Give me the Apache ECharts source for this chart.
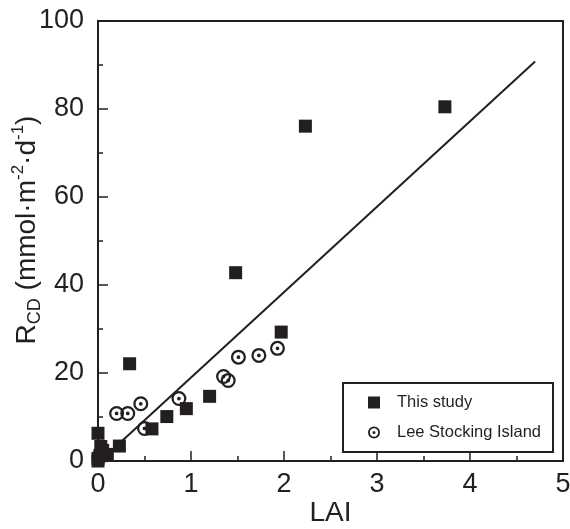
<!DOCTYPE html>
<html>
<head>
<meta charset="utf-8">
<script src="https://cdn.jsdelivr.net/npm/echarts@6/dist/echarts.min.js"></script>
<style>
  html, body { margin: 0; padding: 0; background: #fff; }
  #chart { width: 570px; height: 529px; }
</style>
</head>
<body>
<div id="chart"></div>
<script>
// This study
const studyLAI = [3.73, 2.23, 1.48, 1.97, 0.34, 1.20, 0.95, 0.74, 0.58, 0.23, 0.00, 0.03, 0.10, 0.00, 0.02, 0.05, 0.00];
const studyR   = [80.5, 76.1, 42.8, 29.3, 22.1, 14.7, 11.9, 10.1, 7.3, 3.4, 6.3, 3.3, 1.5, 0.0, 1.2, 2.4, 0.6];

// Lee Stocking Island
const lsiLAI = [0.20, 0.32, 0.46, 0.50, 0.87, 1.35, 1.40, 1.51, 1.73, 1.93, 0.01];
const lsiR   = [10.8, 10.8, 13.0, 7.4, 14.2, 19.2, 18.3, 23.6, 24.0, 25.6, 0.8];

// regression line end points
const fitLAI = [0.12, 4.70];
const fitR   = [1.9, 90.8];

const xTicks = [0, 1, 2, 3, 4, 5];
const yTicks = [0, 20, 40, 60, 80, 100];

const ink = '#231f20';
const font = "'Liberation Sans', Arial, sans-serif";
const ringDot = 'path://M0,-10A10,10,0,1,1,0,10A10,10,0,1,1,0,-10Z' +
  'M0,-7A7,7,0,1,0,0,7A7,7,0,1,0,0,-7Z' +
  'M0,-2.5A2.5,2.5,0,1,1,0,2.5A2.5,2.5,0,1,1,0,-2.5Z';

const zip = (a, b) => a.map((v, i) => [v, b[i]]);

const chart = echarts.init(document.getElementById('chart'));

const option = {
  backgroundColor: '#fff',
  animation: false,
  textStyle: { fontFamily: font, color: ink },
  grid: {
    left: 98, right: 7, top: 21, bottom: 68,
    outerBoundsMode: 'none',
    containLabel: false,
    show: true, borderColor: ink, borderWidth: 2, backgroundColor: 'transparent'
  },
  legend: {
    orient: 'vertical',
    left: 343, top: 383,
    padding: [11, 12, 11, 25],
    itemWidth: 12, itemHeight: 12, itemGap: 13,
    borderColor: ink, borderWidth: 2, borderRadius: 0,
    backgroundColor: '#fff',
    textStyle: { fontFamily: font, fontSize: 16.5, color: ink, padding: [0, 0, 0, 12] },
    data: [
      { name: 'This study', icon: 'rect' },
      { name: 'Lee Stocking Island', icon: ringDot }
    ]
  },
  xAxis: {
    type: 'value',
    min: xTicks[0], max: xTicks[xTicks.length - 1], interval: 1,
    name: 'LAI',
    nameLocation: 'middle',
    nameGap: 38,
    nameMoveOverlap: false,
    nameTextStyle: { fontSize: 28, color: ink, fontFamily: font },
    axisLine: { onZero: false, lineStyle: { color: ink, width: 2 } },
    axisTick: { inside: true, length: 10, lineStyle: { color: ink, width: 1.5 } },
    minorTick: { show: true, splitNumber: 2, length: 5, lineStyle: { color: ink, width: 1.5 } },
    axisLabel: { fontSize: 27, color: ink, margin: 10, fontFamily: font },
    splitLine: { show: false }
  },
  yAxis: {
    type: 'value',
    min: yTicks[0], max: yTicks[yTicks.length - 1], interval: 20,
    name: '{r|R}{sub|CD}{r| (mmol·m}{sup|-2}{r|·d}{sup|-1}{r|)}',
    nameLocation: 'middle',
    nameGap: 54,
    nameMoveOverlap: false,
    nameTextStyle: {
      color: ink,
      padding: [0, 0, 0, 22],
      rich: {
        r: { fontSize: 28, fontFamily: font, color: ink, lineHeight: 34, verticalAlign: 'middle' },
        sub: { fontSize: 18, fontFamily: font, color: ink, verticalAlign: 'bottom', lineHeight: 34 },
        sup: { fontSize: 17, fontFamily: font, color: ink, verticalAlign: 'top', lineHeight: 26 }
      }
    },
    axisLine: { onZero: false, lineStyle: { color: ink, width: 2 } },
    axisTick: { inside: true, length: 10, lineStyle: { color: ink, width: 1.5 } },
    minorTick: { show: true, splitNumber: 2, length: 5, lineStyle: { color: ink, width: 1.5 } },
    axisLabel: { fontSize: 27, color: ink, margin: 14, fontFamily: font },
    splitLine: { show: false }
  },
  series: [
    {
      name: 'fit',
      type: 'line',
      data: zip(fitLAI, fitR),
      showSymbol: false,
      lineStyle: { color: ink, width: 2 },
      z: 1
    },
    {
      name: 'Lee Stocking Island',
      type: 'scatter',
      data: zip(lsiLAI, lsiR),
      symbol: ringDot,
      symbolSize: 15,
      itemStyle: { color: ink, opacity: 1 },
      z: 2
    },
    {
      name: 'This study',
      type: 'scatter',
      data: zip(studyLAI, studyR),
      symbol: 'rect',
      symbolSize: 13,
      itemStyle: { color: ink, opacity: 1 },
      z: 3
    }
  ]
};

chart.setOption(option);
</script>
</body>
</html>
